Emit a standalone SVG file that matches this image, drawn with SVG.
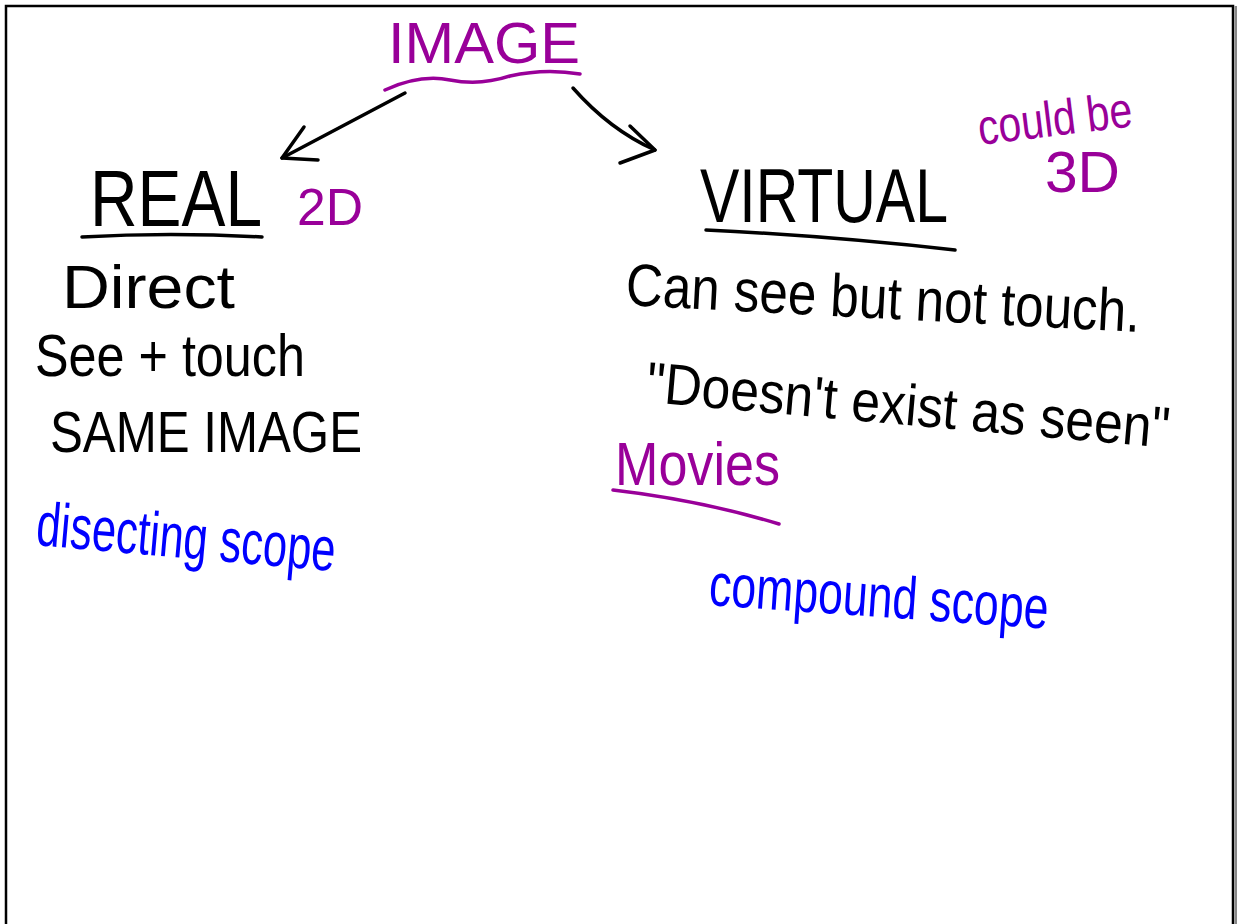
<svg xmlns="http://www.w3.org/2000/svg" width="1237" height="924" viewBox="0 0 1237 924">
<style>
  text { font-family: "Liberation Sans", Arial, sans-serif; }
  .k { fill: #000; }
  .p { fill: #990099; }
  .b { fill: #0000ff; }
  .ul { fill: none; stroke-width: 3.5; stroke-linecap: round; stroke-linejoin: round; }
  .ar { fill: none; stroke: #000; stroke-width: 3.5; stroke-linecap: round; stroke-linejoin: round; }
</style>
<rect width="1237" height="924" fill="#fff"/>
<g id="frame">
  <path d="M6,924 V6 H1233 V924" fill="none" stroke="#000" stroke-width="2.5"/>
  <rect x="1234.5" y="6" width="2.5" height="918" fill="#888"/>
</g>
<g id="connectors">
  <path class="ar" d="M405,93 L282,158"/>
  <path class="ar" d="M304,127 L282,158 L318,160"/>
  <path class="ar" d="M573,88 Q610,130 655,150"/>
  <path class="ar" d="M630,126 L655,150 L620,163"/>
</g>
<g id="image">
  <text x="388" y="63" font-size="58" class="p" textLength="192" lengthAdjust="spacingAndGlyphs">IMAGE</text>
  <path class="ul" stroke="#990099" d="M385,90 Q420,74 450,80 Q480,86 510,76 Q545,68 580,74"/>
</g>
<g id="real">
  <text x="90" y="226" font-size="80" class="k" textLength="172" lengthAdjust="spacingAndGlyphs">REAL</text>
  <path class="ul" stroke="#000" d="M82,237 Q170,232 262,237"/>
  <text x="297" y="225" font-size="52" class="p" textLength="66" lengthAdjust="spacingAndGlyphs">2D</text>
  <text x="62" y="308" font-size="62" class="k" textLength="173" lengthAdjust="spacingAndGlyphs">Direct</text>
  <text x="35" y="376" font-size="60" class="k" textLength="270" lengthAdjust="spacingAndGlyphs">See + touch</text>
  <text x="50" y="452" font-size="58" class="k" textLength="312" lengthAdjust="spacingAndGlyphs">SAME IMAGE</text>
  <text x="35" y="545" font-size="62" class="b" textLength="300" lengthAdjust="spacingAndGlyphs" transform="rotate(5 35 545)">disecting scope</text>
</g>
<g id="virtual">
  <text x="700" y="222" font-size="76" class="k" textLength="248" lengthAdjust="spacingAndGlyphs">VIRTUAL</text>
  <path class="ul" stroke="#000" d="M706,230 Q830,236 955,250"/>
  <text x="980" y="145" font-size="50" class="p" textLength="155" lengthAdjust="spacingAndGlyphs" transform="rotate(-7 980 145)">could be</text>
  <text x="1045" y="192" font-size="58" class="p" textLength="75" lengthAdjust="spacingAndGlyphs">3D</text>
  <text x="625" y="305" font-size="60" class="k" textLength="515" lengthAdjust="spacingAndGlyphs" transform="rotate(3 625 305)">Can see but not touch.</text>
  <text x="645" y="402" font-size="58" class="k" textLength="525" lengthAdjust="spacingAndGlyphs" transform="rotate(5 645 402)">"Doesn't exist as seen"</text>
  <text x="615" y="485" font-size="62" class="p" textLength="165" lengthAdjust="spacingAndGlyphs">Movies</text>
  <path class="ul" stroke="#990099" d="M613,490 Q700,500 779,524"/>
  <text x="708" y="605" font-size="60" class="b" textLength="340" lengthAdjust="spacingAndGlyphs" transform="rotate(4 708 605)">compound scope</text>
</g>
</svg>
